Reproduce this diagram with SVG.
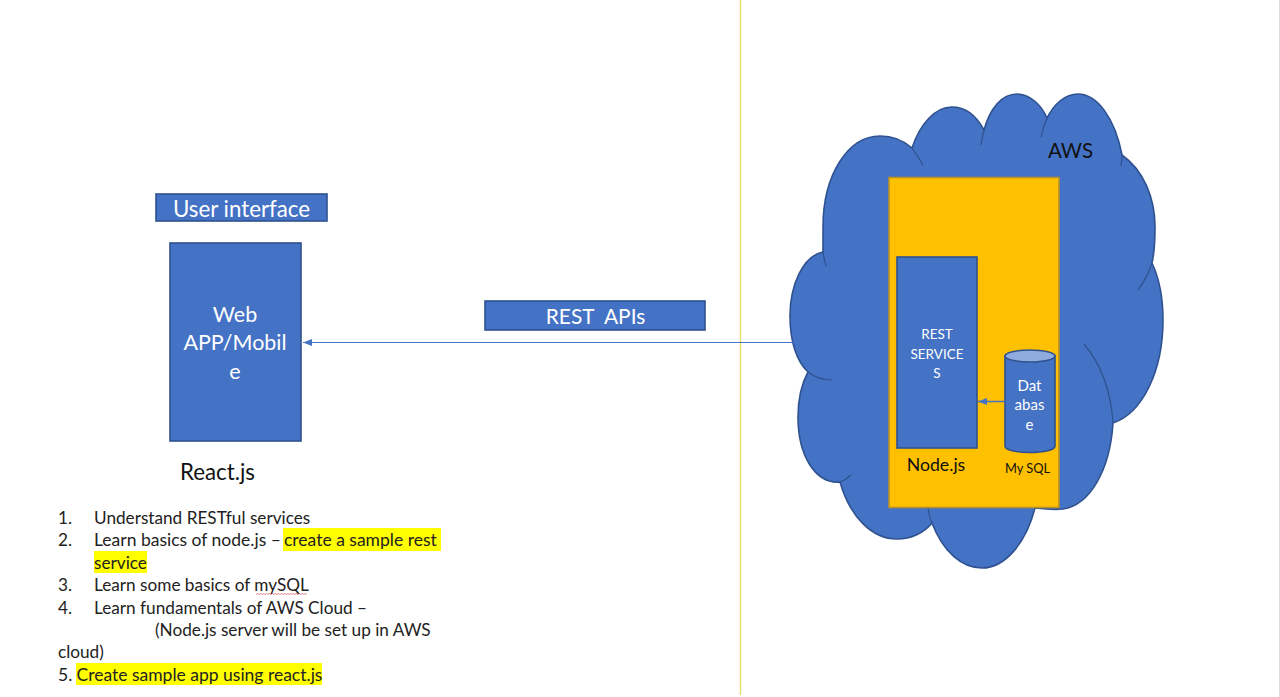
<svg xmlns="http://www.w3.org/2000/svg" width="1280" height="697" viewBox="0 0 1280 697">
<style>
text{font-family:"Lato","Open Sans","Liberation Sans",sans-serif}
.box{fill:#4472C4;stroke:#2F528F;stroke-width:1.6}
.w{fill:#fff;text-anchor:middle}
.k{fill:#111;text-anchor:middle}
.li{fill:#222;font-size:17.2px}
.lg{font-size:17.5px}
.hl{fill:#FFFF00}
.fold{fill:none;stroke:#2F528F;stroke-width:1.2}
.conn{stroke:#4472C4;stroke-width:1;fill:none}
.conn2{stroke:#4472C4;stroke-width:1.500;fill:none}
</style>
<defs>
<marker id="arr" markerUnits="userSpaceOnUse" markerWidth="9" markerHeight="8" refX="9" refY="4" orient="auto"><path d="M0 .5L9 4L0 7.500Z" fill="#4472C4"/></marker>
</defs>
<rect width="1280" height="697" fill="#fff"/>
<path d="M740.500 0V695" stroke="#E6DD6E" stroke-width="1.500" fill="none"/>
<path d="M1279.500 0V697" stroke="#dcdcdc" stroke-width="1" fill="none"/>

<g id="cloud">
<path class="box" d="M823 252C803 256 790 285 790 316C790 342 797 362 808 372C801 385 798 400 798 417C798 455 815 484 840 482C850 517 872 539 897 539C911 539 924 533 932 523C943 552 962 568 982 568C1005 568 1026 543 1035 508C1044 509 1053 510 1063 509C1090 505 1110 470 1113 423C1143 413 1163 370 1163 320C1163 298 1159 278 1152 263C1155 250 1155 240 1155 227C1155 197 1143 170 1122 155C1115 118 1097 94 1078 94C1065 94 1054 104 1047 118C1041 104 1029 94 1017 94C1002 94 990 108 984 130C976 115 965 107 952 107C935 107 920 124 912 148C903 140 892 136 880 136C848 136 823 175 823 227C823 236 823 244 823 252Z"/>
<path class="fold" d="M823 252Q824 259 826 266M912 148Q918 156 923 165M984 130Q982 137 981 145M1047 118Q1043 127 1041 137M1122 155Q1122 160 1121 166M1152 263Q1147 278 1138 290M808 372Q818 380 832 380M840 482Q846 480 851 475M928 508Q929 516 932 523M1084 344Q1110 375 1113 423"/>
<text class="k" x="1070.500" y="158" font-size="20.500">AWS</text>
</g>

<g id="server">
<rect x="889" y="177.500" width="170" height="330" fill="#FFC000" stroke="#B8902A" stroke-width="1.600"/>
</g>

<g id="rest-services">
<rect class="box" x="897" y="257" width="80" height="191"/>
<text class="w" font-size="13.500"><tspan x="937" y="339">REST</tspan><tspan x="937" y="358.500">SERVICE</tspan><tspan x="937" y="378">S</tspan></text>
<text class="k" x="936" y="471" font-size="17.700">Node.js</text>
</g>

<g id="database">
<path class="box" d="M1005 356V446C1005 450 1016 452.500 1030 452.500C1044 452.500 1055 450 1055 446V356Z"/>
<ellipse cx="1030" cy="356" rx="25" ry="6" fill="#8FAADC" stroke="#2F528F" stroke-width="1.600"/>
<text class="w" font-size="15"><tspan x="1029.500" y="391">Dat</tspan><tspan x="1029.500" y="410">abas</tspan><tspan x="1029.500" y="430">e</tspan></text>
<text class="k" x="1027.500" y="473" font-size="12.800">My SQL</text>
</g>

<g id="user-interface">
<rect class="box" x="156" y="194" width="171" height="27"/>
<text class="w" x="241.500" y="216.500" font-size="22.300">User interface</text>
</g>

<g id="web-app">
<rect class="box" x="170" y="243" width="131" height="198"/>
<text class="w" font-size="21.500"><tspan x="235" y="322">Web</tspan><tspan x="235" y="350">APP/Mobil</tspan><tspan x="235" y="379">e</tspan></text>
<text class="k" x="217.500" y="480" font-size="22.300">React.js</text>
</g>

<g id="rest-apis">
<rect class="box" x="485" y="301" width="220" height="29"/>
<text class="w" x="595.500" y="323.500" font-size="20.900" xml:space="preserve">REST  APIs</text>
</g>

<g id="connectors">
<path class="conn" d="M795 342.500H303" marker-end="url(#arr)"/>
<path class="conn2" d="M1005 401.500H978" marker-end="url(#arr)"/>
</g>

<g id="steps">
<rect class="hl" x="283" y="528" width="158" height="23"/>
<rect class="hl" x="94" y="551" width="53" height="22"/>
<rect class="hl" x="76" y="663" width="246" height="22"/>
<text class="li" x="58" y="523.500">1.</text><text class="li" x="94" y="523.500">Understand RESTful services</text>
<text class="li" x="58" y="546">2.</text><text class="li lg" x="94" y="546">Learn basics of node.js – <tspan x="284">create a sample rest</tspan></text>
<text class="li" x="94" y="568.500">service</text>
<text class="li" x="58" y="590.500">3.</text><text class="li" x="94" y="590.500">Learn some basics of mySQL</text>
<path d="M256 594.500l1.500-1 1.500 1 1.500-1 1.500 1 1.500-1 1.500 1 1.500-1 1.500 1 1.500-1 1.500 1 1.500-1 1.500 1 1.500-1 1.500 1 1.500-1 1.500 1 1.500-1 1.500 1 1.500-1 1.500 1 1.500-1 1.500 1 1.500-1 1.500 1 1.500-1 1.500 1 1.500-1 1.500 1 1.500-1 1.500 1 1.500-1 1.500 1 1.500-1 1.500 1" fill="none" stroke="#D9534F" stroke-width=".7"/>
<text class="li" x="58" y="613.500">4.</text><text class="li" x="94" y="613.500">Learn fundamentals of AWS Cloud –</text>
<text class="li" x="155" y="635.500">(Node.js server will be set up in AWS</text>
<text class="li" x="58" y="657.500">cloud)</text>
<text class="li lg" x="58" y="680.500">5. <tspan x="76.500">Create sample app using react.js</tspan></text>
</g>
</svg>
